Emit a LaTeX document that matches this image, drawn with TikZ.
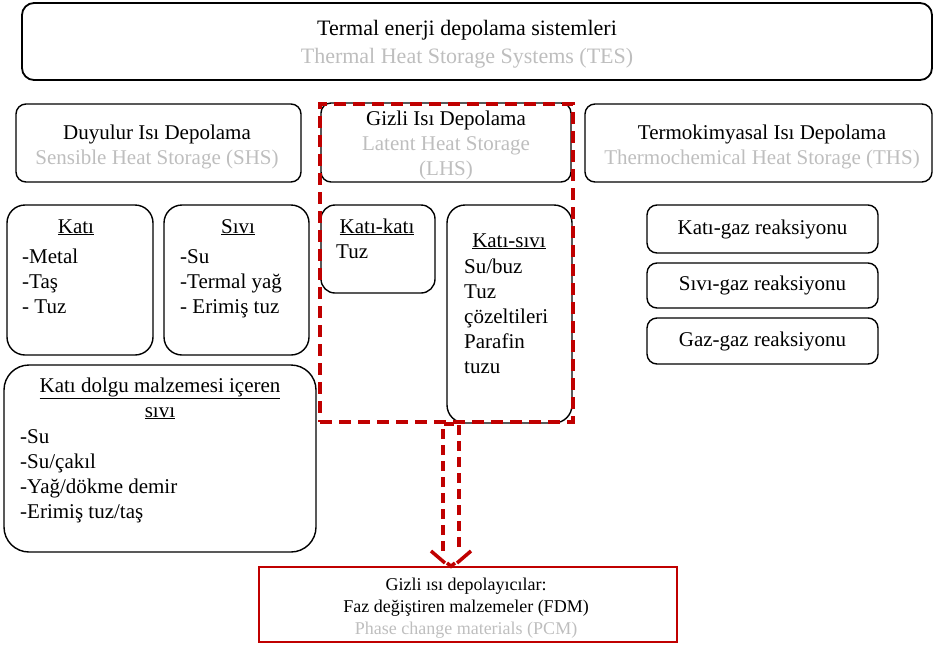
\documentclass[tikz,border=0pt]{standalone}
\usepackage{fontspec}
\setmainfont{Liberation Serif}
\usetikzlibrary{fit}
\definecolor{lgray}{RGB}{190,190,190}
\definecolor{dred}{RGB}{192,0,0}
\begin{document}
\begin{tikzpicture}[x=1pt,y=-1pt,
  box/.style={draw=black, line width=1.4pt, rounded corners=#1, inner sep=0pt, fill=none},
  box/.default=10pt,
  txt/.style={inner sep=0pt, font=\fontsize{21}{25}\selectfont},
  grp/.style={draw=dred, line width=4pt, dash pattern=on 12pt off 7pt, inner sep=0pt},
  harrow/.style={draw=dred, line width=3.5pt, dash pattern=on 10pt off 6pt},
  hhead/.style={draw=dred, line width=3.5pt}
]
\useasboundingbox (0,0) rectangle (933,645);
% boxes
\node[box=12pt, line width=1.8pt, fit={(22,3) (932,80)}] (tes) {};
\node[box, fit={(16,104) (301,182)}] (shs) {};
\node[box, fit={(321,103) (571,182)}] (lhs) {};
\node[box, fit={(585,104) (932,182)}] (ths) {};
\node[box=18pt, fit={(7,205) (153,355)}] (kati) {};
\node[box=18pt, fit={(164,205) (309,355)}] (sivi) {};
\node[box=25pt, fit={(4,365) (316,552)}] (dolgu) {};
\node[box=14pt, fit={(321,205) (435,293)}] (kk) {};
\node[box=18pt, fit={(447,205) (572,423)}] (ks) {};
\node[box, fit={(647,205) (878,253)}] (r1) {};
\node[box, fit={(647,263) (878,308)}] (r2) {};
\node[box, fit={(647,318) (878,364)}] (r3) {};
\node[draw=dred, line width=1.5pt, inner sep=0pt, fit={(259,567) (677,642)}] (pcm) {};
\node[grp, fit={(320,104) (573,422)}] (group) {};
% texts
\node[txt, align=center, font=\fontsize{22}{28}\selectfont] (tTes) at (467,44.5)
  {Termal enerji depolama sistemleri\\\textcolor{lgray}{Thermal Heat Storage Systems (TES)}};
\node[txt, align=center] (tShs) at (157,146.5)
  {Duyulur Isı Depolama\\\textcolor{lgray}{Sensible Heat Storage (SHS)}};
\node[txt, align=center] (tLhs) at (446,145.5)
  {Gizli Isı Depolama\\\textcolor{lgray}{Latent Heat Storage}\\\textcolor{lgray}{(LHS)}};
\node[txt, align=center] (tThs) at (762,146.5)
  {Termokimyasal Isı Depolama\\\textcolor{lgray}{Thermochemical Heat Storage (THS)}};
\node[txt, anchor=base] (hKati) at (76,233) {\underline{Katı}};
\node[txt, anchor=base west, align=left] (lKati) at (22,313) {-Metal\\-Taş\\- Tuz};
\node[txt, anchor=base] (hSivi) at (238,233) {\underline{Sıvı}};
\node[txt, anchor=base west, align=left] (lSivi) at (180,313) {-Su\\-Termal yağ\\- Erimiş tuz};
\node[txt, anchor=base, align=center] (hDolgu) at (160,417) {\underline{Katı dolgu malzemesi içeren}\\\underline{sıvı}};
\node[txt, anchor=base west, align=left] (lDolgu) at (20,518) {-Su\\-Su/çakıl\\-Yağ/dökme demir\\-Erimiş tuz/taş};
\node[txt, anchor=base] (hKk) at (377,233) {\underline{Katı-katı}};
\node[txt, anchor=base west] (lKk) at (336,258) {Tuz};
\node[txt, anchor=base] (hKs) at (509,247) {\underline{Katı-sıvı}};
\node[txt, anchor=base west, align=left] (lKs) at (464,373) {Su/buz\\Tuz\\çözeltileri\\Parafin\\tuzu};
\node[txt] (t1) at (r1.center) {Katı-gaz reaksiyonu};
\node[txt] (t2) at (r2.center) {Sıvı-gaz reaksiyonu};
\node[txt] (t3) at (r3.center) {Gaz-gaz reaksiyonu};
\node[txt, align=center, font=\fontsize{18}{22}\selectfont] (tPcm) at (466,608)
  {Gizli ısı depolayıcılar:\\Faz değiştiren malzemeler (FDM)\\\textcolor{lgray}{Phase change materials (PCM)}};
% hollow dashed arrow
\coordinate (tip) at (451,566 |- pcm.north);
\draw[harrow] (443,551) -- (443,0 |- group.south) -- (459,0 |- group.south) -- (459,551);
\draw[hhead] (431,551) -- (445,563);
\draw[hhead] (471,551) -- (457,563);
\draw[hhead] (447,563) -- (tip) -- (455,563);
\end{tikzpicture}
\end{document}
